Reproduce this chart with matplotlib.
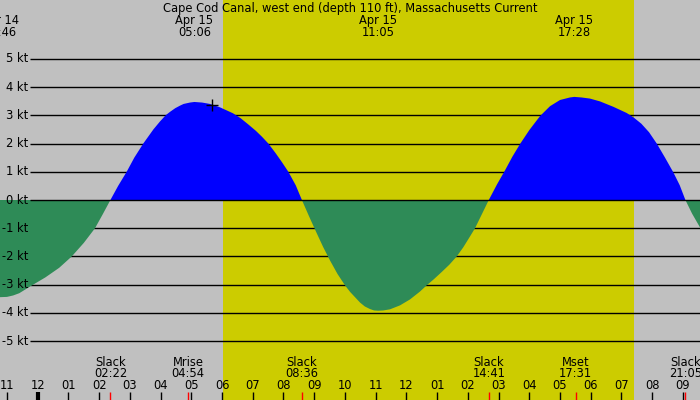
import matplotlib
matplotlib.use('Agg')
import matplotlib.pyplot as plt

# Current curve: hours since Apr 15 00:00, speed in knots
curve_hours = [-1.227, -1.0, -0.8, -0.6, -0.153, 0.25, 0.7, 1.107, 1.5, 1.865, 2.12, 2.367,
               2.619, 2.897, 3.145, 3.438, 3.767, 3.981, 4.167, 4.307, 4.477, 4.632, 4.75,
               4.958, 5.10, 5.35, 5.609, 5.934, 6.357, 6.6, 6.85, 7.1, 7.3, 7.507, 7.75,
               7.95, 8.158, 8.4, 8.60, 8.83, 9.059, 9.29, 9.515, 9.76, 10.003, 10.166,
               10.492, 10.65, 10.817, 10.95, 11.084, 11.25, 11.468, 11.794, 12.119, 12.445,
               12.663, 12.9, 13.15, 13.4, 13.639, 13.85, 14.05, 14.235, 14.46, 14.684,
               14.95, 15.212, 15.45, 15.70, 16.0, 16.351, 16.676, 17.002, 17.327, 17.467,
               17.7, 17.978, 18.304, 18.737, 19.173, 19.388, 19.65, 19.9, 20.15, 20.42,
               20.69, 20.9, 21.084, 21.3, 21.559]
curve_knots = [-3.44, -3.43, -3.38, -3.30, -3.0, -2.74, -2.40, -2.0, -1.52, -1.0, -0.5, 0.0,
               0.5, 1.0, 1.5, 2.0, 2.5, 2.78, 3.0, 3.12, 3.25, 3.34, 3.40,
               3.45, 3.47, 3.45, 3.40, 3.28, 3.07, 2.90, 2.68, 2.45, 2.24, 2.0, 1.65,
               1.34, 1.0, 0.52, 0.0, -0.57, -1.12, -1.66, -2.14, -2.62, -3.02, -3.25,
               -3.63, -3.77, -3.86, -3.91, -3.92, -3.91, -3.87, -3.73, -3.52, -3.24,
               -3.02, -2.80, -2.55, -2.29, -2.0, -1.68, -1.33, -1.0, -0.5, 0.0,
               0.55, 1.05, 1.53, 1.98, 2.47, 2.97, 3.32, 3.54, 3.63, 3.65,
               3.63, 3.59, 3.49, 3.30, 3.08, 2.93, 2.70, 2.40, 2.0, 1.5,
               0.98, 0.52, 0.0, -0.48, -0.97]

# Max current labels (top)
peak_dates = ["Apr 14", "Apr 15", "Apr 15", "Apr 15"]
peak_times = ["22:46", "05:06", "11:05", "17:28"]

# Events (bottom)
event_names = ["Slack", "Mrise", "Slack", "Slack", "Mset", "Slack"]
event_times = ["02:22", "04:54", "08:36", "14:41", "17:31", "21:05"]

# Hour ticks
hour_ticks = list(range(-1, 22))
hour_labels = ["11", "12", "01", "02", "03", "04", "05", "06", "07", "08", "09", "10",
               "11", "12", "01", "02", "03", "04", "05", "06", "07", "08", "09"]

knot_levels = [5, 4, 3, 2, 1, 0, -1, -2, -3, -4, -5]
knot_labels = ["5 kt", "4 kt", "3 kt", "2 kt", "1 kt", "0 kt", "-1 kt", "-2 kt", "-3 kt", "-4 kt", "-5 kt"]

sunrise, sunset = "06:02", "19:24"
marker_time, marker_knots = "05:40", 3.36

title = "Cape Cod Canal, west end (depth 110 ft), Massachusetts Current"


def to_h(s, day_offset=0):
    h, m = s.split(":")
    return int(h) + int(m) / 60.0 + 24 * day_offset


plt.rcParams['font.family'] = ['DejaVu Sans']
W, H = 700, 400
fig = plt.figure(figsize=(7, 4), dpi=100)
ax = fig.add_axes([0, 0, 1, 1])
ax.set_xlim(-1.227, 21.559)
ax.set_ylim(-7.08, 7.08)
ax.axis('off')
fig.patch.set_facecolor('#c0c0c0')
ax.add_patch(plt.Rectangle((0, 0), 1, 1, transform=ax.transAxes, color='#c0c0c0', zorder=0))

ax.axvspan(to_h(sunrise), to_h(sunset), color='#cccc00', zorder=1, lw=0)

ytr = ax.get_yaxis_transform()
xtr = ax.get_xaxis_transform()
fs = 8.3

for lv, lb in zip(knot_levels, knot_labels):
    ax.plot([30 / W, 1], [lv, lv], transform=ytr, color='black', lw=1.0,
            zorder=4 if lv == 0 else 2, solid_capstyle='butt')
    ax.text(28.5 / W, lv, lb, transform=ytr, ha='right', va='center', fontsize=fs, color='black', zorder=5)

ax.fill_between(curve_hours, curve_knots, 0, where=[v >= 0 for v in curve_knots],
                interpolate=True, color='#0000ff', lw=0, zorder=3)
ax.fill_between(curve_hours, curve_knots, 0, where=[v <= 0 for v in curve_knots],
                interpolate=True, color='#2e8b57', lw=0, zorder=3)

ax.plot([to_h(marker_time)], [marker_knots], marker='+', color='black', ms=8, mew=1, zorder=6)

# title and top labels
ax.text(0.5, 1 - 12 / H, title, transform=ax.transAxes, ha='center', va='baseline', fontsize=fs)
for d, t in zip(peak_dates, peak_times):
    hx = to_h(t, -1 if d == "Apr 14" else 0)
    ax.text(hx, 1 - 24 / H, d, transform=xtr, ha='center', va='baseline', fontsize=fs)
    ax.text(hx, 1 - 35.7 / H, t, transform=xtr, ha='center', va='baseline', fontsize=fs)

# bottom events
for n, t in zip(event_names, event_times):
    hx = to_h(t)
    ax.text(hx, 1 - 366 / H, n, transform=xtr, ha='center', va='baseline', fontsize=fs)
    ax.text(hx, 1 - 377.3 / H, t, transform=xtr, ha='center', va='baseline', fontsize=fs)

# hour ticks
for hx, lb in zip(hour_ticks, hour_labels):
    ax.text(hx, 1 - 389.3 / H, lb, transform=xtr, ha='center', va='baseline', fontsize=fs)
    ax.plot([hx, hx], [0, 8 / H], transform=xtr, color='black', lw=3 if hx == 0 else 1, zorder=5,
            solid_capstyle='butt')
for t in event_times:
    hx = to_h(t)
    ax.plot([hx, hx], [0, 8 / H], transform=xtr, color='red', lw=1, zorder=6, solid_capstyle='butt')

fig.savefig('out.png', dpi=100, facecolor='#c0c0c0')
